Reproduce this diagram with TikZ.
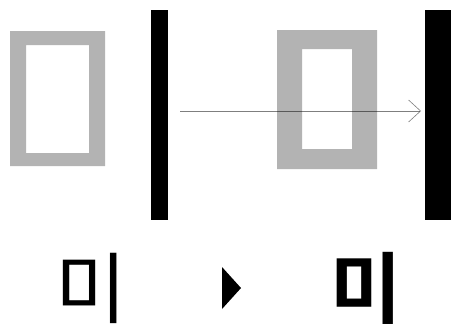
\documentclass[tikz,border=0pt]{standalone}
\usepackage{fontspec}
\newfontfamily\krfont{Noto Sans CJK KR}
\newfontfamily\krbold{Noto Sans CJK KR Bold}
\usetikzlibrary{arrows.meta}

\definecolor{glyphgray}{HTML}{B3B3B3}

\begin{document}
\begin{tikzpicture} [
  x = 1bp,
  y = -1bp,
  glyph/.style = {inner sep = 0, anchor = center, font = \fontsize{78}{78}\krfont},
]
\useasboundingbox (0, 0) rectangle (451, 325);

% magnified strokes, regular weight
\fill [glyphgray, even odd rule] (10, 31) rectangle (105, 166) (26, 45) rectangle (89, 153);
\fill (151, 10) rectangle (168, 220);

% magnified strokes, bold weight
\fill [glyphgray, even odd rule] (277, 30) rectangle (377, 169) (302, 49) rectangle (352, 149);
\fill (425, 10) rectangle (451, 220);

% weight shift
\coordinate (from) at (180, 111);
\coordinate (to) at (421, 111);
\draw [black, opacity = .5, line width = .9bp, -{Straight Barb[length = 12bp, width = 22bp, line width = .6bp]}] (from) -- (to);

% the glyphs at text size
\node [glyph] (thin) at (91, 288) {미};
\node [glyph, font = \fontsize{78}{78}\krbold] (thick) at (366, 288) {미};
\fill (222, 267) -- (241, 288) -- (222, 309) -- cycle;
\end{tikzpicture}
\end{document}
